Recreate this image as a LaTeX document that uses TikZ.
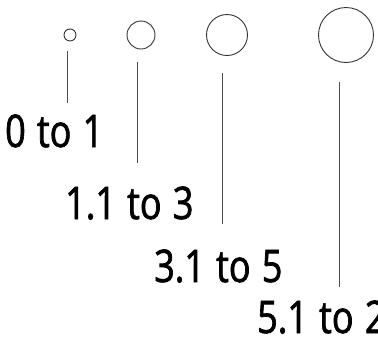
\documentclass[tikz,border=0pt]{standalone}
\usepackage{fontspec}
\newfontfamily\rangefont[FakeStretch=0.8, FakeBold=1.5, WordSpace=1.2]{Open Sans}
\usepackage{tikz}
\usetikzlibrary{positioning}
\tikzstyle{dot} = [circle, draw=black!80, line width=0.9pt, inner sep=0pt]
\tikzstyle{rangetext} = [inner sep=0pt, anchor=base west, font=\rangefont\fontsize{45}{45}\selectfont]
\tikzstyle{stem} = [draw=black!70, line width=0.9pt]

\begin{document}
\begin{tikzpicture}[x=1pt, y=-1pt]
		\useasboundingbox (0,0) rectangle (378,346);
		
		\node (dotA) [dot, minimum size=12pt] at (70,35) {};
		\node (dotB) [dot, minimum size=28pt] at (141,35) {};
		\node (dotC) [dot, minimum size=41pt] at (227,35) {};
		\node (dotD) [dot, minimum size=55pt] at (346,35) {};
		
		\node (rangeA) [rangetext] at (5,147) {0 to 1};
		\node (rangeB) [rangetext] at (65,219) {1.1 to 3};
		\node (rangeC) [rangetext] at (154,282) {3.1 to 5};
		\node (rangeD) [rangetext] at (257,333) {5.1 to 2};
		
		\coordinate (topA) at (67,51);
		\coordinate (endA) at (67,103);
		\coordinate (topB) at (137,62);
		\coordinate (endB) at (137,163);
		\coordinate (topC) at (222,73);
		\coordinate (endC) at (222,224);
		\coordinate (topD) at (339,82);
		\coordinate (endD) at (339,287);
		
		\draw [stem] (topA) -- (endA);
		\draw [stem] (topB) -- (endB);
		\draw [stem] (topC) -- (endC);
		\draw [stem] (topD) -- (endD);
	\end{tikzpicture}
\end{document}
